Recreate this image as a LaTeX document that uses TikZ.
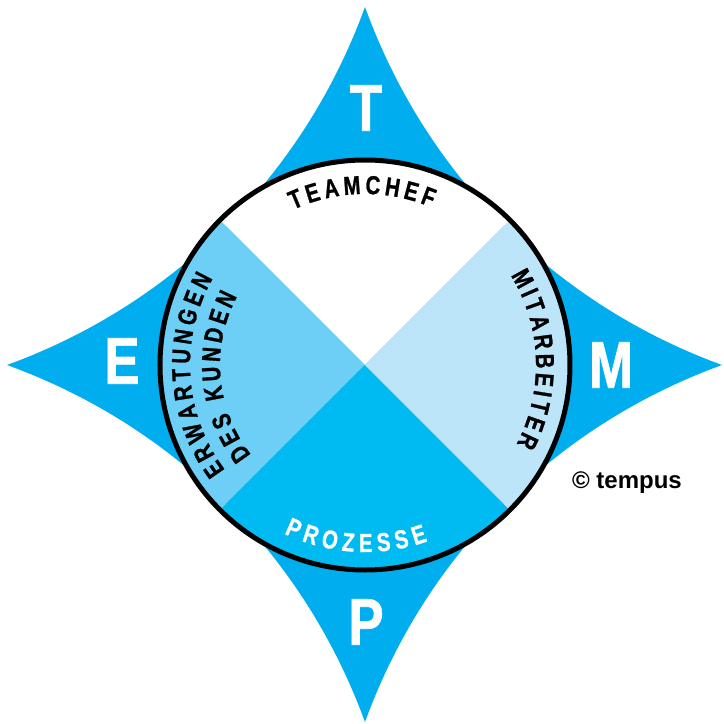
\documentclass[tikz,border=0pt]{standalone}
\usepackage{fontspec}
\newfontfamily\cb[FakeStretch=0.78,FakeBold=1]{Liberation Sans}
\newfontfamily\cbig[FakeStretch=0.8,FakeBold=1]{Liberation Sans}
\newfontfamily\lsans{Liberation Sans}
\newcommand\letterfont{\cb\bfseries\fontsize{26}{26}\selectfont}
\newcommand\bigfont{\cbig\bfseries\fontsize{66}{66}\selectfont}
\newcommand\copyfont{\lsans\bfseries\fontsize{24}{24}\selectfont}
\definecolor{starblue}{HTML}{00AEEF}
\definecolor{quadB}{HTML}{00BBF2}
\definecolor{quadL}{HTML}{6DCFF6}
\definecolor{quadR}{HTML}{BCE5FA}
\def\emw{20.3}
% #1 name, #2 baseline radius, #3 centre angle, #4 tracking, #5 mode (1 = tops outward, clockwise; -1 = tops inward, counter-clockwise), #6 letter/width(em) list
\newcommand\arcword[6]{%
  \gdef\awTot{0}%
  \foreach \chr/\cw in {#6}{\pgfmathsetmacro\awTmp{\awTot+\cw*\emw+#4}\xdef\awTot{\awTmp}}%
  \pgfmathsetmacro\awTmp{\awTot-#4}\xdef\awTot{\awTmp}%
  \gdef\awAcc{0}%
  \foreach \chr/\cw [count=\i] in {#6}{%
    \pgfmathsetmacro\awS{\awAcc+\cw*\emw/2-\awTot/2}%
    \pgfmathsetmacro\awAng{#3-(#5)*(\awS)/#2*180/pi}%
    \pgfmathsetmacro\awRot{\awAng-90*(#5)}%
    \node[letter, rotate=\awRot] (#1\i) at (\awAng:#2) {\chr};
    \pgfmathsetmacro\awTmp{\awAcc+\cw*\emw+#4}\xdef\awAcc{\awTmp}%
  }}
\tikzset{
  letter/.style={anchor=base, inner sep=0pt, font=\letterfont},
  bigletter/.style={inner sep=0pt, text=white, font=\bigfont},
  starside/.style={bend right=25, looseness=0.9}
}
\begin{document}
\begin{tikzpicture}[x=1pt,y=1pt]
\useasboundingbox (-365,-359) rectangle (359,365);
\coordinate (tT) at (0,358);
\coordinate (tR) at (357,0);
\coordinate (tB) at (0,-357);
\coordinate (tL) at (-358,0);
\fill[starblue] (tT) to[starside] (tR) to[starside] (tB) to[starside] (tL) to[starside] (tT) -- cycle;
% quadrants
\coordinate (c) at (0,0);
\fill[white] (c) -- (45:205) arc[start angle=45, end angle=135, radius=205] -- cycle;
\fill[quadL] (c) -- (135:205) arc[start angle=135, end angle=225, radius=205] -- cycle;
\fill[quadB] (c) -- (225:205) arc[start angle=225, end angle=315, radius=205] -- cycle;
\fill[quadR] (c) -- (-45:205) arc[start angle=-45, end angle=45, radius=205] -- cycle;
\draw[line width=5pt] (c) circle[radius=205];
% big letters
\node[bigletter] (T) at (1,257) {T};
\node[bigletter] (E) at (-243,4) {E};
\node[bigletter] (M) at (246,0) {M};
\node[bigletter] (P) at (1,-257) {P};
% curved labels
\arcword{team}{171}{91}{4.2}{1}{T/.611,E/.667,A/.722,M/.833,C/.722,H/.722,E/.667,F/.611}
\arcword{mit}{171}{2}{3.8}{1}{M/.833,I/.278,T/.611,A/.722,R/.722,B/.722,E/.667,I/.278,T/.611,E/.667,R/.722}
\arcword{erw}{175}{183.6}{4.1}{1}{E/.667,R/.722,W/.944,A/.722,R/.722,T/.611,U/.722,N/.722,G/.778,E/.667,N/.722}
\arcword{kun}{145}{185}{3.8}{1}{D/.722,E/.667,S/.667,~/.278,K/.722,U/.722,N/.722,D/.722,E/.667,N/.722}
\begin{scope}[every node/.append style={text=white}]
\arcword{proz}{187}{267}{5.3}{-1}{P/.667,R/.722,O/.778,Z/.611,E/.667,S/.667,S/.667,E/.667}
\end{scope}
\node[anchor=base, font=\copyfont] (copy) at (262,-123) {© tempus};
\end{tikzpicture}
\end{document}
